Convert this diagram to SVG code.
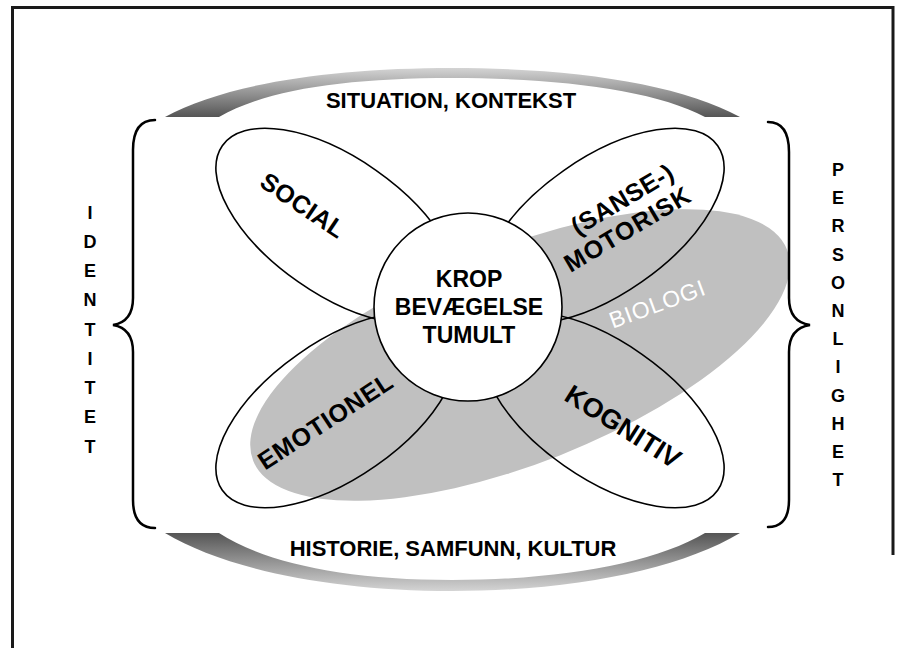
<svg xmlns="http://www.w3.org/2000/svg" width="903" height="648" viewBox="0 0 903 648">
<style>
  text { font-family: "Liberation Sans", Arial, sans-serif; fill: #000; }
  .b { font-weight: bold; }
  .petal { fill: none; stroke: #000; stroke-width: 1.6; }
  .brace { fill: none; stroke: #000; stroke-width: 2.5; stroke-linecap: round; }
  .letter { font-size: 18px; font-weight: bold; text-anchor: middle; }
  .lbl { font-size: 25px; font-weight: bold; text-anchor: middle; }
  .mid { font-size: 23px; font-weight: bold; text-anchor: middle; }
  .bio { font-size: 23px; text-anchor: middle; fill: #fff; }
</style>
<defs>
  <linearGradient id="gTop" x1="0" y1="0" x2="0" y2="1">
    <stop offset="0" stop-color="#d4d4d4"/>
    <stop offset="1" stop-color="#555555"/>
  </linearGradient>
  <linearGradient id="gBot" x1="0" y1="0" x2="0" y2="1">
    <stop offset="0" stop-color="#555555"/>
    <stop offset="1" stop-color="#d4d4d4"/>
  </linearGradient>
</defs>
<rect width="903" height="648" fill="#fff"/>
<g id="frame" fill="none" stroke="#1a1a1a" stroke-width="3">
  <path d="M12.5 648 L12.5 7.5 L893 7.5 L893 555"/>
</g>
<g id="situation">
  <path d="M165 117 C225 84 330 68 452 68 C575 68 680 84 740 117 L705 117 C655 90 560 78 452 78 C345 78 265 90 219 117 Z" fill="url(#gTop)"/>
  <text class="b" x="451" y="108" font-size="22" text-anchor="middle">SITUATION, KONTEKST</text>
</g>
<g id="historie">
  <path d="M165 533 C225 569 330 591 452 591 C575 591 680 569 740 533 L705 533 C655 563 560 580 452 580 C345 580 265 563 219 533 Z" fill="url(#gBot)"/>
  <text class="b" x="453" y="556" font-size="22" text-anchor="middle">HISTORIE, SAMFUNN, KULTUR</text>
</g>
<g id="petal-fills" fill="#fff">
  <ellipse cx="337" cy="226" rx="140" ry="68" transform="rotate(35 337 226)"/>
  <ellipse cx="603" cy="226" rx="140" ry="68" transform="rotate(-35 603 226)"/>
  <ellipse cx="337" cy="410" rx="140" ry="68" transform="rotate(-35 337 410)"/>
  <ellipse cx="603" cy="410" rx="140" ry="68" transform="rotate(35 603 410)"/>
</g>
<g id="biologi">
  <ellipse cx="520" cy="355" rx="287" ry="108" transform="rotate(-21.6 520 355)" fill="#c0c0c0"/>
  <text class="bio" transform="translate(657 304) rotate(-20.2)" x="0" y="8" textLength="100" lengthAdjust="spacing">BIOLOGI</text>
</g>
<g id="connectors">
</g>
<g id="social">
  <ellipse class="petal" cx="337" cy="226" rx="140" ry="68" transform="rotate(35 337 226)"/>
  <text class="lbl" transform="translate(303 205) rotate(34)" x="0" y="9" textLength="96" lengthAdjust="spacing">SOCIAL</text>
</g>
<g id="motorisk">
  <ellipse class="petal" cx="603" cy="226" rx="140" ry="68" transform="rotate(-35 603 226)"/>
  <text class="lbl" transform="translate(622 199) rotate(-30.7)" x="0" y="9" textLength="114" lengthAdjust="spacing">(SANSE-)</text>
  <text class="lbl" transform="translate(627 229) rotate(-30.7)" x="0" y="9" textLength="142" lengthAdjust="spacing">MOTORISK</text>
</g>
<g id="emotionel">
  <ellipse class="petal" cx="337" cy="410" rx="140" ry="68" transform="rotate(-35 337 410)"/>
  <text class="lbl" transform="translate(325 421) rotate(-33)" x="0" y="9" textLength="155" lengthAdjust="spacing">EMOTIONEL</text>
</g>
<g id="kognitiv">
  <ellipse class="petal" cx="603" cy="410" rx="140" ry="68" transform="rotate(35 603 410)"/>
  <text class="lbl" transform="translate(623.5 426) rotate(32.3)" x="0" y="10" style="font-size:27px" textLength="131" lengthAdjust="spacingAndGlyphs">KOGNITIV</text>
</g>
<g id="krop">
  <circle cx="468" cy="307" r="94" fill="#fff" stroke="#000" stroke-width="1.6"/>
  <text class="mid" x="469" y="287">KROP</text>
  <text class="mid" x="469" y="315">BEVÆGELSE</text>
  <text class="mid" x="469" y="343">TUMULT</text>
</g>
<g id="identitet">
  <path class="brace" d="M155 120 C140 120 133 130 133 150 L133 298 C133 315 125 323 113 325 C125 327 133 335 133 352 L133 500 C133 518 140 528 155 528"/>
  <text class="letter" x="90" y="219">I</text>
  <text class="letter" x="90" y="248">D</text>
  <text class="letter" x="90" y="277">E</text>
  <text class="letter" x="90" y="306">N</text>
  <text class="letter" x="90" y="336">T</text>
  <text class="letter" x="90" y="365">I</text>
  <text class="letter" x="90" y="394">T</text>
  <text class="letter" x="90" y="423">E</text>
  <text class="letter" x="90" y="453">T</text>
</g>
<g id="personlighet">
  <path class="brace" d="M768 122 C782 122 789 132 789 152 L789 298 C789 315 797 323 810 325 C797 327 789 335 789 352 L789 500 C789 518 782 527 768 527"/>
  <text class="letter" x="838" y="176">P</text>
  <text class="letter" x="838" y="204">E</text>
  <text class="letter" x="838" y="232">R</text>
  <text class="letter" x="838" y="261">S</text>
  <text class="letter" x="838" y="289">O</text>
  <text class="letter" x="838" y="317">N</text>
  <text class="letter" x="838" y="345">L</text>
  <text class="letter" x="838" y="373">I</text>
  <text class="letter" x="838" y="402">G</text>
  <text class="letter" x="838" y="430">H</text>
  <text class="letter" x="838" y="458">E</text>
  <text class="letter" x="838" y="486">T</text>
</g>
</svg>
